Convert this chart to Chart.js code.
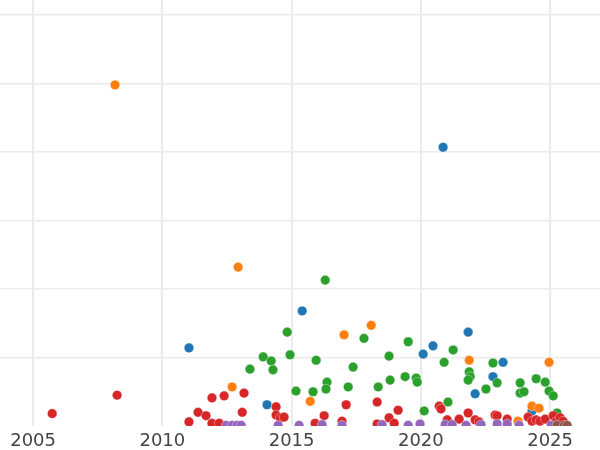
<!DOCTYPE html>
<html lang="en">
<head>
  <meta charset="UTF-8" />
  <title>Scatter by year</title>
  <script src="https://cdn.jsdelivr.net/npm/chart.js"></script>
  <style>
    body { margin: 0; background: #fff; }
    canvas { display: block; }
  </style>
</head>
<body>
  <canvas id="scatterChart" width="600" height="450"></canvas>

  <script>
    // values
    const xTicks = [2005, 2010, 2015, 2020, 2025];
    const yTicks = [1, 2, 3, 4, 5, 6];

    const blueX = [2020.86, 2015.41, 2021.83, 2020.47, 2020.09, 2011.03, 2023.18, 2014.05, 2022.79, 2022.10, 2024.30];
    const blueY = [4.07, 1.68, 1.37, 1.17, 1.05, 1.14, 0.93, 0.31, 0.72, 0.47, 0.22];

    const orangeX = [2008.17, 2012.93, 2017.03, 2018.08, 2024.96, 2021.87, 2012.70, 2015.72, 2024.30, 2024.57, 2023.76];
    const orangeY = [4.98, 2.32, 1.33, 1.47, 0.93, 0.96, 0.57, 0.36, 0.29, 0.26, 0.07];

    const greenX = [2016.30, 2014.83, 2017.80, 2019.51, 2021.25, 2013.90, 2014.94, 2018.77, 2015.95, 2014.21,
                    2020.90, 2022.79, 2017.38, 2013.39, 2014.28, 2021.87, 2019.39, 2021.91, 2019.82, 2018.81,
                    2021.83, 2019.86, 2016.37, 2022.95, 2023.84, 2024.46, 2024.81, 2016.33, 2017.19, 2018.35,
                    2015.17, 2015.83, 2022.52, 2023.84, 2023.99, 2024.96, 2025.12, 2021.05, 2020.13, 2025.27];
    const greenY = [2.13, 1.37, 1.28, 1.23, 1.11, 1.01, 1.04, 1.02, 0.96, 0.95,
                    0.93, 0.92, 0.86, 0.83, 0.82, 0.79, 0.72, 0.72, 0.70, 0.67,
                    0.67, 0.64, 0.64, 0.63, 0.63, 0.69, 0.64, 0.54, 0.57, 0.57,
                    0.51, 0.50, 0.54, 0.48, 0.50, 0.51, 0.44, 0.35, 0.22, 0.19];

    const redX = [2005.74, 2008.25, 2011.03, 2011.38, 2011.69, 2011.92, 2012.39, 2013.16, 2013.09, 2011.92,
                  2012.20, 2014.40, 2014.40, 2014.56, 2014.71, 2015.91, 2016.26, 2016.95, 2017.11, 2018.31,
                  2018.31, 2018.77, 2018.97, 2019.12, 2020.71, 2020.78, 2021.02, 2021.48, 2021.83, 2022.10,
                  2022.25, 2022.87, 2022.95, 2023.34, 2024.15, 2024.30, 2024.46, 2024.61, 2024.81, 2025.12,
                  2025.23, 2025.39, 2025.50];
    const redY = [0.18, 0.45, 0.06, 0.20, 0.15, 0.41, 0.44, 0.48, 0.20, 0.04,
                  0.04, 0.28, 0.16, 0.12, 0.13, 0.04, 0.15, 0.07, 0.31, 0.35,
                  0.03, 0.12, 0.04, 0.23, 0.29, 0.25, 0.09, 0.10, 0.19, 0.09,
                  0.06, 0.16, 0.15, 0.10, 0.13, 0.07, 0.09, 0.07, 0.10, 0.15,
                  0.06, 0.12, 0.07];

    const purpleX = [2012.47, 2012.70, 2012.89, 2013.05, 2014.48, 2015.29, 2016.18, 2016.95, 2018.50, 2019.51,
                     2019.97, 2020.94, 2021.21, 2021.75, 2022.33, 2022.95, 2023.34, 2023.80, 2025.04];
    const purpleY = [0.01, 0.01, 0.01, 0.01, 0.01, 0.01, 0.02, 0.01, 0.02, 0.01,
                     0.03, 0.02, 0.02, 0.01, 0.02, 0.03, 0.03, 0.01, 0.01];

    const brownX = [2025.27, 2025.54, 2025.66];
    const brownY = [0.01, 0.01, 0.01];

    function points(xs, ys) {
      return xs.map((x, i) => ({ x: x, y: ys[i] }));
    }

    function series(xs, ys, color, order) {
      return {
        data: points(xs, ys),
        backgroundColor: color,
        borderColor: 'rgba(255,255,255,0.7)',
        borderWidth: 0.5,
        pointRadius: 4.8,
        order: order,
        clip: 0
      };
    }

    const ctx = document.getElementById('scatterChart').getContext('2d');
    new Chart(ctx, {
      type: 'scatter',
      data: {
        datasets: [
          series(blueX, blueY, '#1f77b4', 5),
          series(orangeX, orangeY, '#ff7f0e', 4),
          series(greenX, greenY, '#2ca02c', 3),
          series(redX, redY, '#d62728', 2),
          series(purpleX, purpleY, '#9467bd', 1),
          series(brownX, brownY, '#8c564b', 0)
        ]
      },
      options: {
        responsive: false,
        animation: false,
        layout: { padding: 0, autoPadding: false },
        plugins: {
          legend: { display: false },
          tooltip: { enabled: false }
        },
        scales: {
          x: {
            type: 'linear',
            min: 2003.72,
            max: 2026.93,
            afterBuildTicks: s => { s.ticks = xTicks.map(v => ({ value: v })); },
            afterFit: s => { s.height = 24; },
            border: { display: false },
            grid: { color: '#ebebeb', lineWidth: 2, drawTicks: false },
            ticks: {
              padding: 5,
              color: '#444',
              font: { family: 'DejaVu Sans', size: 18 },
              callback: v => String(v)
            }
          },
          y: {
            min: 0,
            max: 6.22,
            afterBuildTicks: s => { s.ticks = yTicks.map(v => ({ value: v })); },
            afterFit: s => { s.width = 0; },
            border: { display: false },
            grid: { color: '#ebebeb', lineWidth: 1.5, drawTicks: false },
            ticks: { display: false }
          }
        }
      }
    });
  </script>
</body>
</html>
